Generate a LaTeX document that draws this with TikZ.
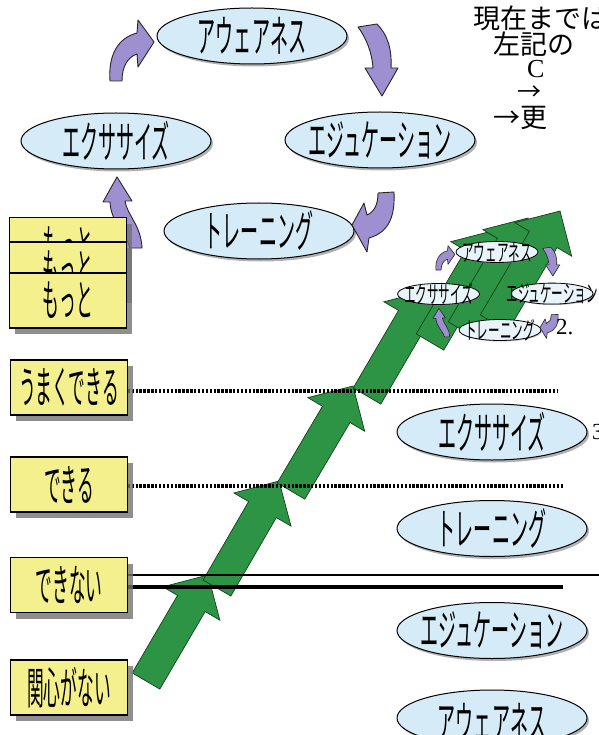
\documentclass[tikz,border=0pt]{standalone}
\usepackage{fontspec}
\usepackage{graphicx}
\setmainfont{Liberation Serif}
\newfontfamily\jp{Noto Sans CJK JP}
\usetikzlibrary{shapes.geometric,calc,shadows}
\definecolor{ylw}{HTML}{F5F08E}
\definecolor{elb}{HTML}{D5EBF7}
\definecolor{elm}{HTML}{E8F4FA}
\definecolor{prp}{HTML}{9E8FD0}
\definecolor{grn}{HTML}{2C9444}
\definecolor{gline}{HTML}{173F1C}
\newcommand\bigjp[1]{\scalebox{0.41}[1]{\jp\fontsize{44pt}{44pt}\selectfont #1}}
\newcommand\smjp[1]{\scalebox{0.48}[1]{\jp\fontsize{24pt}{24pt}\selectfont #1}}
\newcommand\boxjp[1]{\scalebox{0.38}[1]{\jp\fontsize{44pt}{44pt}\selectfont #1}}
\newcommand\rtjp{\jp\fontsize{27pt}{27pt}\selectfont}
% cycle: #1 prefix, #2 ellipse style, #3 width, #4 height, #5 font cmd, #6 arrow style
\newcommand\drawcycle[6]{%
 \node[#2, minimum width=#3, minimum height=#4] (#1A) at (0,0) {};
 \node[#2, minimum width=#3, minimum height=#4] (#1X) at (-136,105) {};
 \node[#2, minimum width=#3, minimum height=#4] (#1E) at (128,104) {};
 \node[#2, minimum width=#3, minimum height=#4] (#1T) at (7,195) {};
 \node[txt] (#1Al) at (#1A) {#5{アウェアネス}};
 \node[txt] (#1Xl) at (#1X) {#5{エクササイズ}};
 \node[txt] (#1El) at (#1E) {#5{エジュケーション}};
 \node[txt] (#1Tl) at (#1T) {#5{トレーニング}};
 \filldraw[#6] (-142,45) .. controls (-144,19) and (-134,2) .. (-115,-3) -- (-114,-16) -- (-98,6) -- (-114,31) -- (-115,18) .. controls (-124,21) and (-130,30) .. (-130,45) -- cycle;
 \filldraw[#6] (106,-9) -- (125,-12) .. controls (136,-1) and (140,14) .. (139,32) -- (146,32) -- (130,60) -- (113,32) -- (121,32) .. controls (120,16) and (114,2) .. (106,-9) -- cycle;
 \filldraw[#6] (126,157) -- (142,156) .. controls (143,179) and (138,196) .. (117,202) -- (115,216) -- (100,189) -- (112,167) -- (115,179) .. controls (122,176) and (126,169) .. (126,157) -- cycle;
 \filldraw[#6] (-122,212) .. controls (-127,196) and (-141,186) .. (-142,166) -- (-149,166) -- (-135,141) -- (-120,165) -- (-127,165) .. controls (-125,179) and (-111,189) .. (-110,212) -- cycle;
}
\newcommand\greenarrow[2]{%
 \coordinate (#1h) at ($(#2)!33pt!(#1)$);
 \filldraw[garrow] ($(#1)!16pt!90:(#2)$) -- ($(#1h)!16pt!90:(#2)$) -- ($(#1h)!33pt!90:(#2)$) -- (#2) -- ($(#1h)!33pt!-90:(#2)$) -- ($(#1h)!16pt!-90:(#2)$) -- ($(#1)!16pt!-90:(#2)$) -- cycle;
}
\begin{document}
\begin{tikzpicture}[x=1pt,y=-1pt,
 txt/.style={inner sep=0pt},
 cyc/.style={ellipse, draw=black, line width=1pt, fill=elb, inner sep=0pt,
   drop shadow={shadow xshift=2pt, shadow yshift=-2.5pt, fill=black!50, opacity=0.6}},
 mcyc/.style={ellipse, draw=black, line width=0.8pt, fill=elm, inner sep=0pt,
   drop shadow={shadow xshift=1pt, shadow yshift=-1pt, fill=black!50, opacity=0.5}},
 parrow/.style={fill=prp, draw=black!85, line width=0.9pt, line join=round},
 parrowm/.style={fill=prp, draw=black!85, line width=0.6pt, line join=round},
 garrow/.style={fill=grn, draw=gline, line width=0.7pt, line join=miter},
 ybox/.style={draw=black, line width=1.1pt, fill=ylw, minimum width=117pt, minimum height=55pt, inner sep=0pt,
   drop shadow={shadow xshift=5pt, shadow yshift=-6pt, fill=black!55, opacity=0.8}},
 yplace/.style={minimum width=117pt, minimum height=55pt, inner sep=0pt},
 dotl/.style={line width=3.2pt, dash pattern=on 2.4pt off 1.5pt, draw=black},
]
\useasboundingbox (0,0) rectangle (598,735);
\fill[white] (0,0) rectangle (598,735);

% main cycle
\begin{scope}[shift={(252,36)}]
 \drawcycle{c}{cyc}{190pt}{56pt}{\bigjp}{parrow}
\end{scope}

% green staircase arrows
\coordinate (g1) at (146,681); \coordinate (g1p) at (208,575);
\coordinate (g2) at (217,588); \coordinate (g2p) at (279,481);
\coordinate (g3) at (291,491); \coordinate (g3p) at (353,386);
\coordinate (g4) at (367,396); \coordinate (g4p) at (429,290);
\coordinate (g5) at (430,342); \coordinate (g5p) at (496,230);
\coordinate (g6) at (462,330); \coordinate (g6p) at (528,218);
\coordinate (g7) at (494,323); \coordinate (g7p) at (560,211);
\greenarrow{g1}{g1p}
\greenarrow{g2}{g2p}
\greenarrow{g3}{g3p}
\greenarrow{g4}{g4p}
\greenarrow{g5}{g5p}
\greenarrow{g6}{g6p}
\greenarrow{g7}{g7p}

% level line ends
\coordinate (d1b) at (558,391);
\coordinate (d2b) at (563,486);
\coordinate (l1b) at (600,575);
\coordinate (l2b) at (563,587);
\path (69,387.5) node[yplace] (pU) {} (69,484.5) node[yplace] (pD) {} (69,585) node[yplace] (pN) {};
% level lines
\draw[dotl] (pU.east |- d1b) -- (d1b);
\draw[dotl] (pD.east |- d2b) -- (d2b);
\draw[line width=1.1pt] (pN.east |- l1b) -- (l1b);
\draw[line width=4pt] (pN.east |- l2b) -- (l2b);

% yellow boxes
\node[ybox] (b1) at (68,245) {\boxjp{もっと}};
\node[ybox] (b2) at (68,269.5) {\boxjp{もっと}};
\node[ybox] (b3) at (68,300.5) {\boxjp{もっと}};
\node[ybox] (bU) at (69,387.5) {\boxjp{うまくできる}};
\node[ybox] (bD) at (69,484.5) {\boxjp{できる}};
\node[ybox] (bN) at (69,585) {\boxjp{できない}};
\node[ybox] (bK) at (69,687.5) {\boxjp{関心がない}};

% mini cycle
\begin{scope}[shift={(497,252)}, xscale=0.43, yscale=0.40]
 \drawcycle{m}{mcyc}{82pt}{21pt}{\smjp}{parrowm}
\end{scope}

% right column ellipses
\node[cyc, minimum width=190pt, minimum height=56pt] (r1) at (492,432) {};
\node[cyc, minimum width=190pt, minimum height=56pt] (r2) at (492,528.5) {};
\node[cyc, minimum width=190pt, minimum height=56pt] (r3) at (492,630.5) {};
\node[cyc, minimum width=190pt, minimum height=56pt] (r4) at (492,718) {};
\node[txt] (r1l) at (r1) {\bigjp{エクササイズ}};
\node[txt] (r2l) at (r2) {\bigjp{トレーニング}};
\node[txt] (r3l) at (r3) {\bigjp{エジュケーション}};
\node[txt] (r4l) at ($(r4)+(0,4)$) {\bigjp{アウェアネス}};

% top right text
\node[txt, anchor=west] (t1) at (473,18) {\rtjp 現在までは};
\node[txt, anchor=west] (t2) at (493,44) {\rtjp 左記の};
\node[txt, anchor=west, font=\fontsize{26pt}{26pt}\selectfont] (t3) at (527,69) {C};
\node[txt, anchor=west] (t4) at (517,93) {\jp\fontsize{24pt}{24pt}\selectfont →};
\node[txt, anchor=west] (t5) at (493,118) {\rtjp →更};
\node[txt, anchor=west, font=\fontsize{23pt}{23pt}\selectfont] (n2) at (556,327) {2.};
\node[txt, anchor=west, font=\fontsize{23pt}{23pt}\selectfont] (n3) at (592,432) {3.};
\end{tikzpicture}
\end{document}
